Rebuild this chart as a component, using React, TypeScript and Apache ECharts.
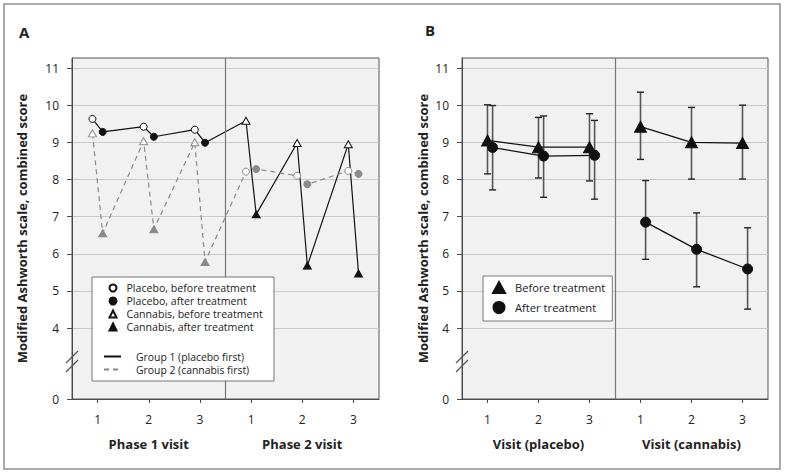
import React, { useEffect, useRef } from 'react';
import * as echarts from 'echarts';

// ---------- axes ----------
const visitPositions = [1, 2, 3, 4, 5, 6];
const visitTickLabels = ['1', '2', '3', '1', '2', '3'];
const yTickValues = [4, 5, 6, 7, 8, 9, 10, 11];
const yBreakBase = 2.09; // position of the "0" label below the axis break
const yTop = 11.27;
const phaseTitlesA = ['Phase 1 visit', 'Phase 2 visit'];
const phaseTitlesB = ['Visit (placebo)', 'Visit (cannabis)'];

// ---------- panel A (individual group means) ----------
// Group 1 (placebo first): phase 1 placebo, phase 2 cannabis
const g1PlaceboBefore = [9.63, 9.42, 9.34];
const g1PlaceboAfter = [9.28, 9.15, 8.99];
const g1CannabisBefore = [9.58, 8.98, 8.95];
const g1CannabisAfter = [7.06, 5.68, 5.47];
// Group 2 (cannabis first): phase 1 cannabis, phase 2 placebo
const g2CannabisBefore = [9.24, 9.03, 9.0];
const g2CannabisAfter = [6.55, 6.66, 5.78];
const g2PlaceboBefore = [8.21, 8.1, 8.23];
const g2PlaceboAfter = [8.28, 7.87, 8.15];

// ---------- panel B (pooled means with error bars) ----------
const bPlaceboBefore = [9.05, 8.87, 8.87];
const bPlaceboBeforeLow = [8.15, 8.04, 7.96];
const bPlaceboBeforeHigh = [10.01, 9.67, 9.77];
const bPlaceboAfter = [8.86, 8.63, 8.65];
const bPlaceboAfterLow = [7.72, 7.52, 7.47];
const bPlaceboAfterHigh = [9.99, 9.71, 9.59];
const bCannabisBefore = [9.42, 9.0, 8.98];
const bCannabisBeforeLow = [8.54, 8.01, 8.01];
const bCannabisBeforeHigh = [10.35, 9.94, 10.0];
const bCannabisAfter = [6.85, 6.12, 5.59];
const bCannabisAfterLow = [5.85, 5.11, 4.51];
const bCannabisAfterHigh = [7.97, 7.1, 6.7];

const FONT = '"Open Sans", "Noto Sans", sans-serif';
const TXT = '#222';
const AXIS = '#4a4a4a';
const GRAY = '#8a8a8a';

const phase1 = visitPositions.slice(0, 3);
const phase2 = visitPositions.slice(3, 6);

const pts = (xs: number[], ys: number[], dx: number) => xs.map((x, i) => [x + dx, ys[i]]);
const zigzag = (xs1: number[], b1: number[], a1: number[], xs2: number[], b2: number[], a2: number[]) => {
  const out: number[][] = [];
  xs1.forEach((x, i) => { out.push([x - 0.1, b1[i]]); out.push([x + 0.1, a1[i]]); });
  xs2.forEach((x, i) => { out.push([x - 0.1, b2[i]]); out.push([x + 0.1, a2[i]]); });
  return out;
};
const bars = (xs: number[], lo: number[], hi: number[], dx: number) => xs.map((x, i) => [x + dx, lo[i], hi[i]]);

function yAxisCfg(gridIndex: number, nameGap: number) {
  const vals = [yBreakBase, ...yTickValues];
  return {
    type: 'value', gridIndex, min: yBreakBase, max: yTop,
    axisLine: { show: true, lineStyle: { color: AXIS, width: 1 } },
    axisTick: { show: true, length: 5, customValues: vals, lineStyle: { color: AXIS } },
    axisLabel: {
      customValues: vals, margin: 13, fontSize: 12, color: TXT, fontFamily: FONT,
      formatter: (v: number) => (v < 3 ? '0' : String(Math.round(v))),
    },
    splitLine: { show: true, lineStyle: { color: '#c9c9c9', width: 1 } },
    name: 'Modified Ashworth scale, combined score',
    nameLocation: 'middle', nameGap,
    nameTextStyle: { fontWeight: 'bold', fontSize: 13, color: TXT, fontFamily: FONT },
  };
}
function xAxisCfg(gridIndex: number) {
  return {
    type: 'value', gridIndex, min: 0.5, max: 6.5,
    axisLine: { show: true, onZero: false, lineStyle: { color: AXIS, width: 1 } },
    axisTick: { show: true, length: 4, customValues: visitPositions, lineStyle: { color: AXIS } },
    axisLabel: {
      customValues: visitPositions, margin: 14, fontSize: 12, color: TXT, fontFamily: FONT,
      formatter: (v: number) => visitTickLabels[Math.round(v) - 1] ?? '',
    },
    splitLine: { show: false },
  };
}
function titleAxisCfg(gridIndex: number, data: string[]) {
  return {
    type: 'category', gridIndex, position: 'bottom', data,
    axisLine: { show: false }, axisTick: { show: false }, splitLine: { show: false },
    axisLabel: { margin: 38, fontSize: 13, fontWeight: 'bold', color: TXT, fontFamily: FONT },
  };
}
const divider = {
  silent: true, symbol: ['none', 'none'], label: { show: false },
  lineStyle: { color: '#777', width: 1.2, type: 'solid' },
  data: [{ xAxis: 3.5 }],
};

function scatter(name: string, xi: number, yi: number, data: number[][], symbol: string, size: any, fill: string, stroke: string) {
  return {
    name, type: 'scatter', xAxisIndex: xi, yAxisIndex: yi, data, symbol, symbolSize: size, z: 5,
    itemStyle: { color: fill, borderColor: stroke, borderWidth: 1, opacity: 1 },
    emphasis: { disabled: true },
  };
}
function errorBars(data: number[][]) {
  return {
    type: 'custom', xAxisIndex: 2, yAxisIndex: 1, data, z: 2, silent: true,
    encode: { x: 0, y: [1, 2] },
    renderItem: (_p: any, api: any) => {
      const x = api.value(0);
      const lo = api.coord([x, api.value(1)]);
      const hi = api.coord([x, api.value(2)]);
      const c = 3.5;
      return {
        type: 'group',
        children: [
          { type: 'line', shape: { x1: lo[0], y1: lo[1], x2: hi[0], y2: hi[1] }, style: { stroke: '#555', lineWidth: 1.6 } },
          { type: 'line', shape: { x1: lo[0] - c, y1: lo[1], x2: lo[0] + c, y2: lo[1] }, style: { stroke: '#222', lineWidth: 1.4 } },
          { type: 'line', shape: { x1: hi[0] - c, y1: hi[1], x2: hi[0] + c, y2: hi[1] }, style: { stroke: '#222', lineWidth: 1.4 } },
        ],
      };
    },
  };
}
function bLine(data: number[][], withDivider = false) {
  const s: any = {
    type: 'line', xAxisIndex: 2, yAxisIndex: 1, data, symbol: 'none', z: 3, silent: true,
    lineStyle: { color: '#111', width: 1.3 },
  };
  if (withDivider) s.markLine = divider;
  return s;
}

const legendText = { fontSize: 10.6, color: TXT, fontFamily: FONT };

export default function App() {
  const ref = useRef<HTMLDivElement>(null);
  useEffect(() => {
    if (!ref.current) return;
    const chart = echarts.init(ref.current, undefined, { renderer: 'svg' });
    const triA = [8, 7];
    const cirA = 7;
    const option: any = {
      animation: false,
      backgroundColor: '#ffffff',
      textStyle: { fontFamily: FONT },
      title: [
        { text: 'A', left: 14, top: 19, textStyle: { fontSize: 15, fontWeight: 'bold', color: TXT, fontFamily: FONT } },
        { text: 'B', left: 420, top: 17, textStyle: { fontSize: 15, fontWeight: 'bold', color: TXT, fontFamily: FONT } },
      ],
      grid: [
        { left: 72, top: 58, width: 307, height: 341, show: true, backgroundColor: '#f1f1f1', borderColor: '#555', borderWidth: 1 },
        { left: 462, top: 58, width: 306, height: 341, show: true, backgroundColor: '#f1f1f1', borderColor: '#555', borderWidth: 1 },
      ],
      xAxis: [xAxisCfg(0), titleAxisCfg(0, phaseTitlesA), xAxisCfg(1), titleAxisCfg(1, phaseTitlesB)],
      yAxis: [yAxisCfg(0, 44), yAxisCfg(1, 33)],
      legend: [
        {
          left: 108.5, top: 281.5, orient: 'vertical', padding: 0, itemGap: 0, itemWidth: 7, itemHeight: 7,
          selectedMode: false, z: 20,
          data: ['Placebo, before treatment', 'Placebo, after treatment', 'Cannabis, before treatment', 'Cannabis, after treatment'],
          textStyle: { ...legendText, lineHeight: 13, padding: [0, 0, 0, 5] },
        },
        {
          left: 103, top: 350, orient: 'vertical', padding: 0, itemGap: 0, itemWidth: 17, itemHeight: 8,
          selectedMode: false, z: 20,
          itemStyle: { opacity: 0 },
          data: ['Group 1 (placebo first)', 'Group 2 (cannabis first)'],
          textStyle: { ...legendText, fontSize: 10.4, lineHeight: 13, padding: [0, 0, 0, 10] },
        },
        {
          left: 483, top: 276, orient: 'vertical', padding: [5, 7, 7, 9], itemGap: 7, itemWidth: 12, itemHeight: 11,
          selectedMode: false, z: 20, backgroundColor: '#ffffff', borderColor: '#777', borderWidth: 1,
          data: ['Before treatment', 'After treatment'],
          textStyle: { ...legendText, fontSize: 11.2, lineHeight: 12, padding: [0, 0, 0, 5] },
        },
      ],
      graphic: [
        { type: 'rect', z: 15, shape: { x: 92, y: 277, width: 182, height: 104 }, style: { fill: '#ffffff', stroke: '#777', lineWidth: 1 } },
        { type: 'rect', z: 0, shape: { x: 4, y: 4, width: 776, height: 465 }, style: { fill: 'none', stroke: '#939393', lineWidth: 1.6 } },
        { type: 'line', z: 15, shape: { x1: 66, y1: 363, x2: 78, y2: 351 }, style: { stroke: '#555', lineWidth: 1.2 } },
        { type: 'line', z: 15, shape: { x1: 66, y1: 372, x2: 78, y2: 360 }, style: { stroke: '#555', lineWidth: 1.2 } },
        { type: 'line', z: 15, shape: { x1: 456, y1: 363, x2: 468, y2: 351 }, style: { stroke: '#555', lineWidth: 1.2 } },
        { type: 'line', z: 15, shape: { x1: 456, y1: 372, x2: 468, y2: 360 }, style: { stroke: '#555', lineWidth: 1.2 } },
      ],
      series: [
        // ----- panel A connecting lines -----
        {
          name: 'Group 1 (placebo first)', type: 'line', xAxisIndex: 0, yAxisIndex: 0, symbol: 'none', z: 3, silent: true,
          data: zigzag(phase1, g1PlaceboBefore, g1PlaceboAfter, phase2, g1CannabisBefore, g1CannabisAfter),
          lineStyle: { color: '#111', width: 1.2, type: 'solid' }, itemStyle: { color: '#111' },
          markLine: divider,
        },
        {
          name: 'Group 2 (cannabis first)', type: 'line', xAxisIndex: 0, yAxisIndex: 0, symbol: 'none', z: 3, silent: true,
          data: zigzag(phase1, g2CannabisBefore, g2CannabisAfter, phase2, g2PlaceboBefore, g2PlaceboAfter),
          lineStyle: { color: GRAY, width: 1.2, type: [5, 4] }, itemStyle: { color: GRAY },
        },
        // ----- panel A markers, group 1 -----
        scatter('Placebo, before treatment', 0, 0, pts(phase1, g1PlaceboBefore, -0.1), 'circle', cirA, '#ffffff', '#111'),
        scatter('Placebo, after treatment', 0, 0, pts(phase1, g1PlaceboAfter, 0.1), 'circle', cirA, '#111', '#111'),
        scatter('Cannabis, before treatment', 0, 0, pts(phase2, g1CannabisBefore, -0.1), 'triangle', triA, '#ffffff', '#111'),
        scatter('Cannabis, after treatment', 0, 0, pts(phase2, g1CannabisAfter, 0.1), 'triangle', triA, '#111', '#111'),
        // ----- panel A markers, group 2 -----
        scatter('Cannabis, before treatment', 0, 0, pts(phase1, g2CannabisBefore, -0.1), 'triangle', triA, '#ffffff', GRAY),
        scatter('Cannabis, after treatment', 0, 0, pts(phase1, g2CannabisAfter, 0.1), 'triangle', triA, GRAY, GRAY),
        scatter('Placebo, before treatment', 0, 0, pts(phase2, g2PlaceboBefore, -0.1), 'circle', cirA, '#ffffff', GRAY),
        scatter('Placebo, after treatment', 0, 0, pts(phase2, g2PlaceboAfter, 0.1), 'circle', cirA, GRAY, GRAY),
        // ----- panel B -----
        errorBars([
          ...bars(phase1, bPlaceboBeforeLow, bPlaceboBeforeHigh, 0),
          ...bars(phase1, bPlaceboAfterLow, bPlaceboAfterHigh, 0.1),
          ...bars(phase2, bCannabisBeforeLow, bCannabisBeforeHigh, 0),
          ...bars(phase2, bCannabisAfterLow, bCannabisAfterHigh, 0.1),
        ]),
        bLine(pts(phase1, bPlaceboBefore, 0), true),
        bLine(pts(phase1, bPlaceboAfter, 0.1)),
        bLine(pts(phase2, bCannabisBefore, 0)),
        bLine(pts(phase2, bCannabisAfter, 0.1)),
        scatter('Before treatment', 2, 1, [...pts(phase1, bPlaceboBefore, 0), ...pts(phase2, bCannabisBefore, 0)], 'triangle', [12, 11], '#111', '#111'),
        scatter('After treatment', 2, 1, [...pts(phase1, bPlaceboAfter, 0.1), ...pts(phase2, bCannabisAfter, 0.1)], 'circle', 10, '#111', '#111'),
      ],
    };
    chart.setOption(option);
    return () => chart.dispose();
  }, []);
  return <div ref={ref} style={{ position: 'fixed', left: 0, top: 0, width: 786, height: 476 }} />;
}
